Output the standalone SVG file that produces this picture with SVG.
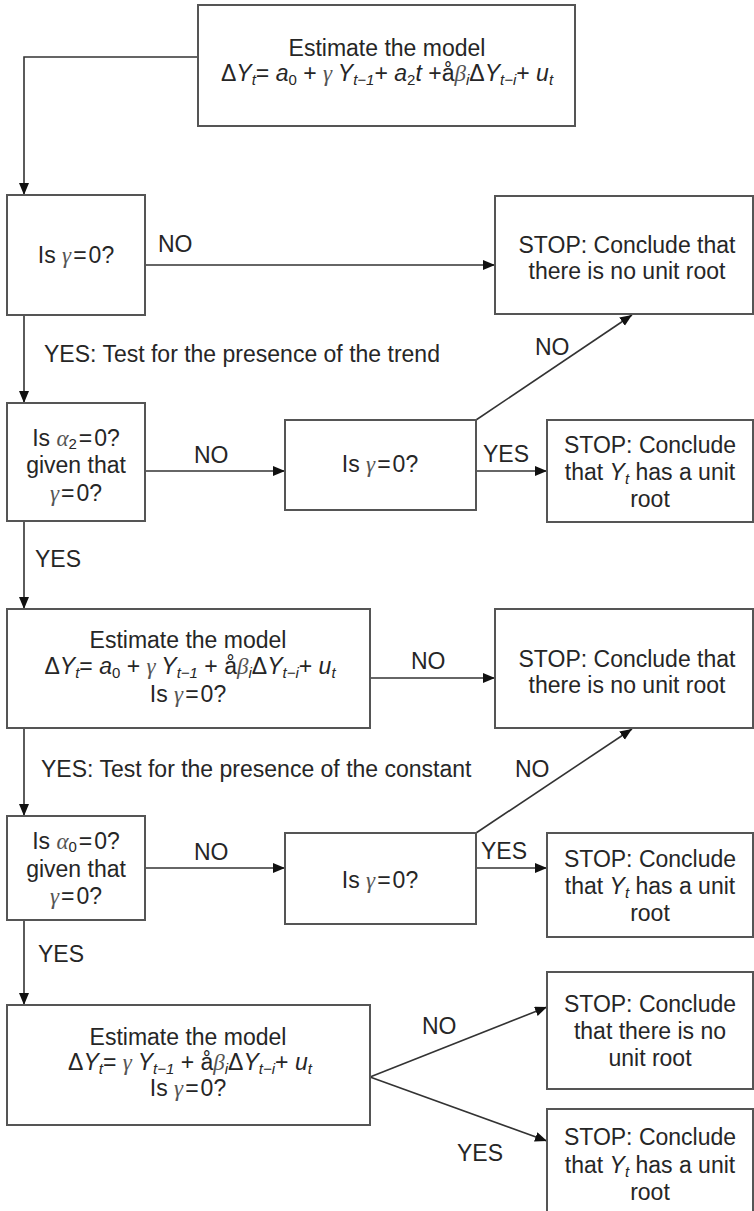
<svg xmlns="http://www.w3.org/2000/svg" width="754" height="1211" viewBox="0 0 754 1211">
<style>
.box{fill:#fff;stroke:#555;stroke-width:2}
.ln{fill:none;stroke:#333;stroke-width:1.6}
.t{font-family:"Liberation Sans",Arial,sans-serif;font-size:23px;fill:#262626}
.m{text-anchor:middle}
.i{font-style:italic}
.g{font-family:"Liberation Serif","Times New Roman",serif;font-style:italic;fill:#555}
.s{font-size:15px}
</style>
<defs>
<marker id="ah" markerWidth="13" markerHeight="11" refX="12" refY="5" orient="auto" markerUnits="userSpaceOnUse">
<path d="M0,0 L12,5 L0,10 z" fill="#111"/>
</marker>
</defs>
<g id="connectors">
<path class="ln" d="M198,57 H24 V195" marker-end="url(#ah)"/>
<path class="ln" d="M145,265 H495" marker-end="url(#ah)"/>
<path class="ln" d="M24,315 V403" marker-end="url(#ah)"/>
<path class="ln" d="M145,471 H285" marker-end="url(#ah)"/>
<path class="ln" d="M476,420 L632,315" marker-end="url(#ah)"/>
<path class="ln" d="M476,471 H547" marker-end="url(#ah)"/>
<path class="ln" d="M24,521 V609" marker-end="url(#ah)"/>
<path class="ln" d="M370,678 H495" marker-end="url(#ah)"/>
<path class="ln" d="M24,728 V816" marker-end="url(#ah)"/>
<path class="ln" d="M145,868 H285" marker-end="url(#ah)"/>
<path class="ln" d="M476,833 L632,729" marker-end="url(#ah)"/>
<path class="ln" d="M476,868 H547" marker-end="url(#ah)"/>
<path class="ln" d="M24,920 V1005" marker-end="url(#ah)"/>
<path class="ln" d="M370,1077 L547,1007" marker-end="url(#ah)"/>
<path class="ln" d="M370,1077 L547,1141" marker-end="url(#ah)"/>
<text class="t" x="158" y="252">NO</text>
<text class="t" x="44" y="362">YES: Test for the presence of the trend</text>
<text class="t" x="535" y="355">NO</text>
<text class="t" x="194" y="463">NO</text>
<text class="t" x="483" y="462">YES</text>
<text class="t" x="35" y="567">YES</text>
<text class="t" x="411" y="669">NO</text>
<text class="t" x="41" y="777">YES: Test for the presence of the constant</text>
<text class="t" x="515" y="777">NO</text>
<text class="t" x="194" y="860">NO</text>
<text class="t" x="481" y="859">YES</text>
<text class="t" x="38" y="962">YES</text>
<text class="t" x="422" y="1034">NO</text>
<text class="t" x="457" y="1161">YES</text>
</g>
<g id="n1">
<rect class="box" x="198" y="5" width="377" height="121"/>
<text class="t m" x="387" y="56">Estimate the model</text>
<text class="t m" x="387" y="81">Δ<tspan class="i">Y</tspan><tspan class="i s" dy="4">t</tspan><tspan dy="-4">= </tspan><tspan class="i">a</tspan><tspan class="s" dy="4">0</tspan><tspan dy="-4"> + </tspan><tspan class="g">γ </tspan><tspan class="i">Y</tspan><tspan class="i s" dy="4">t−1</tspan><tspan dy="-4">+ </tspan><tspan class="i">a</tspan><tspan class="s" dy="4">2</tspan><tspan class="i" dy="-4">t</tspan><tspan> +å</tspan><tspan class="g">β</tspan><tspan class="i s" dy="4">i</tspan><tspan dy="-4">Δ</tspan><tspan class="i">Y</tspan><tspan class="i s" dy="4">t−i</tspan><tspan dy="-4">+ </tspan><tspan class="i">u</tspan><tspan class="i s" dy="4">t</tspan></text>
</g>
<g id="n2">
<rect class="box" x="7" y="195" width="138" height="120"/>
<text class="t m" x="76" y="263">Is <tspan class="g">γ</tspan><tspan dx="2">=</tspan><tspan dx="2">0?</tspan></text>
</g>
<g id="n3">
<rect class="box" x="495" y="196" width="258" height="118"/>
<text class="t m" x="627" y="253">STOP: Conclude that</text>
<text class="t m" x="627" y="279">there is no unit root</text>
</g>
<g id="n4">
<rect class="box" x="7" y="403" width="138" height="118"/>
<text class="t m" x="76" y="446">Is <tspan class="g">α</tspan><tspan class="s" dy="3">2</tspan><tspan dy="-3" dx="2">=</tspan><tspan dx="2">0?</tspan></text>
<text class="t m" x="76" y="473">given that</text>
<text class="t m" x="76" y="501"><tspan class="g">γ</tspan><tspan dx="2">=</tspan><tspan dx="2">0?</tspan></text>
</g>
<g id="n5">
<rect class="box" x="285" y="420" width="191" height="90"/>
<text class="t m" x="380" y="472">Is <tspan class="g">γ</tspan><tspan dx="2">=</tspan><tspan dx="2">0?</tspan></text>
</g>
<g id="n6">
<rect class="box" x="547" y="420" width="206" height="102"/>
<text class="t m" x="650" y="453">STOP: Conclude</text>
<text class="t m" x="650" y="480">that <tspan class="i">Y</tspan><tspan class="i s" dy="4">t</tspan><tspan dy="-4"> has a unit</tspan></text>
<text class="t m" x="650" y="507">root</text>
</g>
<g id="n7">
<rect class="box" x="7" y="609" width="363" height="119"/>
<text class="t m" x="188" y="648">Estimate the model</text>
<text class="t m" x="190" y="674">Δ<tspan class="i">Y</tspan><tspan class="i s" dy="4">t</tspan><tspan dy="-4">= </tspan><tspan class="i">a</tspan><tspan class="s" dy="4">0</tspan><tspan dy="-4"> + </tspan><tspan class="g">γ </tspan><tspan class="i">Y</tspan><tspan class="i s" dy="4">t−1</tspan><tspan dy="-4"> + å</tspan><tspan class="g">β</tspan><tspan class="i s" dy="4">i</tspan><tspan dy="-4">Δ</tspan><tspan class="i">Y</tspan><tspan class="i s" dy="4">t−i</tspan><tspan dy="-4">+ </tspan><tspan class="i">u</tspan><tspan class="i s" dy="4">t</tspan></text>
<text class="t m" x="188" y="702">Is <tspan class="g">γ</tspan><tspan dx="2">=</tspan><tspan dx="2">0?</tspan></text>
</g>
<g id="n8">
<rect class="box" x="495" y="609" width="258" height="119"/>
<text class="t m" x="627" y="667">STOP: Conclude that</text>
<text class="t m" x="627" y="693">there is no unit root</text>
</g>
<g id="n9">
<rect class="box" x="7" y="816" width="138" height="104"/>
<text class="t m" x="76" y="849">Is <tspan class="g">α</tspan><tspan class="s" dy="3">0</tspan><tspan dy="-3" dx="2">=</tspan><tspan dx="2">0?</tspan></text>
<text class="t m" x="76" y="877">given that</text>
<text class="t m" x="76" y="904"><tspan class="g">γ</tspan><tspan dx="2">=</tspan><tspan dx="2">0?</tspan></text>
</g>
<g id="n10">
<rect class="box" x="285" y="833" width="191" height="91"/>
<text class="t m" x="380" y="888">Is <tspan class="g">γ</tspan><tspan dx="2">=</tspan><tspan dx="2">0?</tspan></text>
</g>
<g id="n11">
<rect class="box" x="547" y="833" width="206" height="104"/>
<text class="t m" x="650" y="867">STOP: Conclude</text>
<text class="t m" x="650" y="894">that <tspan class="i">Y</tspan><tspan class="i s" dy="4">t</tspan><tspan dy="-4"> has a unit</tspan></text>
<text class="t m" x="650" y="921">root</text>
</g>
<g id="n12">
<rect class="box" x="7" y="1005" width="363" height="120"/>
<text class="t m" x="188" y="1045">Estimate the model</text>
<text class="t m" x="190" y="1070">Δ<tspan class="i">Y</tspan><tspan class="i s" dy="4">t</tspan><tspan dy="-4">= </tspan><tspan class="g">γ </tspan><tspan class="i">Y</tspan><tspan class="i s" dy="4">t−1</tspan><tspan dy="-4"> + å</tspan><tspan class="g">β</tspan><tspan class="i s" dy="4">i</tspan><tspan dy="-4">Δ</tspan><tspan class="i">Y</tspan><tspan class="i s" dy="4">t−i</tspan><tspan dy="-4">+ </tspan><tspan class="i">u</tspan><tspan class="i s" dy="4">t</tspan></text>
<text class="t m" x="188" y="1096">Is <tspan class="g">γ</tspan><tspan dx="2">=</tspan><tspan dx="2">0?</tspan></text>
</g>
<g id="n13">
<rect class="box" x="547" y="972" width="206" height="117"/>
<text class="t m" x="650" y="1012">STOP: Conclude</text>
<text class="t m" x="650" y="1039">that there is no</text>
<text class="t m" x="650" y="1066">unit root</text>
</g>
<g id="n14">
<rect class="box" x="547" y="1109" width="206" height="110"/>
<text class="t m" x="650" y="1145">STOP: Conclude</text>
<text class="t m" x="650" y="1173">that <tspan class="i">Y</tspan><tspan class="i s" dy="4">t</tspan><tspan dy="-4"> has a unit</tspan></text>
<text class="t m" x="650" y="1200">root</text>
</g>
</svg>
